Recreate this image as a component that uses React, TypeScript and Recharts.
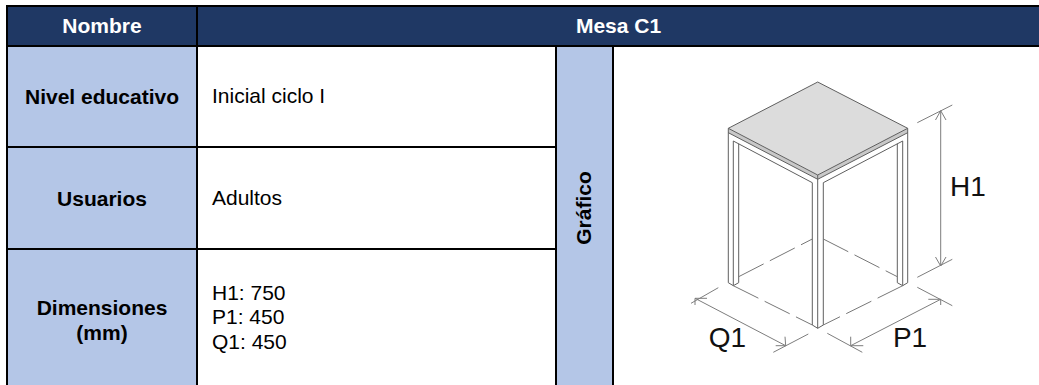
import { ComposedChart, Area, Line, XAxis, YAxis, ReferenceDot } from 'recharts';

const headerLabels = ['Nombre', 'Mesa C1'];
const rowLabels = ['Nivel educativo', 'Usuarios', 'Dimensiones\n(mm)'];
const rowValues = ['Inicial ciclo I', 'Adultos', 'H1: 750\nP1: 450\nQ1: 450'];
const sideLabel = 'Gráfico';

type Pt = [number, number];

// drawing values
const topFace = [
  { x: 728.3, band: [128.3, 128.3] },
  { x: 817.7, band: [82, 175] },
  { x: 907.7, band: [128.3, 128.3] },
];
const edgeLeft = [
  { x: 728.3, band: [128.3, 132.7] },
  { x: 817.7, band: [175, 179.3] },
];
const edgeRight = [
  { x: 817.7, band: [175, 179.3] },
  { x: 907.7, band: [128.3, 132.7] },
];

const solidLines: Pt[][] = [
  [[728.3, 128.3], [817.7, 82], [907.7, 128.3], [817.7, 175], [728.3, 128.3]],
  [[728.3, 128.3], [728.3, 282.7], [733.3, 285.7]],
  [[907.7, 128.3], [907.7, 282.7], [902.7, 285.7]],
  [[728.3, 132.7], [817.7, 179.3], [907.7, 132.7]],
  [[817.7, 175], [817.7, 328.3]],
  [[733.3, 141], [733.3, 285.7], [738.7, 282.7], [738.7, 143.7]],
  [[902.7, 141], [902.7, 285.7], [897.3, 282.7], [897.3, 143.7]],
  [[733.3, 141], [812.3, 182.7], [812.3, 325], [817.7, 328.3], [823.3, 325], [823.3, 182.7], [902.7, 141]],
];

const dashedLines: Pt[][] = [
  [[738.7, 276.7], [812.3, 239]],
  [[823.3, 239], [897.3, 276.7]],
  [[733.3, 285.7], [812.3, 325]],
  [[902.7, 285.7], [823.3, 325]],
];

const dimensionLines: Pt[][] = [
  [[940.7, 110.7], [940.7, 266]],
  [[917.3, 122.7], [952.3, 105]],
  [[917.3, 277.3], [952.3, 259.3]],
  [[935.5, 120], [940.7, 110.7], [946, 120]],
  [[935.5, 257], [940.7, 266], [946, 257]],
  [[695, 298.3], [785.7, 345.7]],
  [[691, 303.3], [718.3, 287.7]],
  [[773.3, 352.3], [808.3, 334]],
  [[695, 305], [695, 298.3], [707, 298.3]],
  [[785, 336.7], [785.7, 345.7], [775.7, 345.7]],
  [[850.7, 345.7], [940.7, 299.3]],
  [[827.3, 333.3], [862.3, 352.3]],
  [[917.3, 287.3], [952.3, 305.7]],
  [[850.7, 336.7], [850.7, 345.7], [863.3, 345.7]],
  [[928.3, 299.3], [940.7, 299.3], [940.7, 305]],
];

const dimensionNames = [
  { name: 'H1', x: 968, y: 186.5 },
  { name: 'Q1', x: 727.5, y: 337 },
  { name: 'P1', x: 910, y: 337 },
];

const toPoints = (seg: Pt[]) => seg.map(([x, y]) => ({ x, y }));

const FONT = '"Liberation Sans", Arial, sans-serif';
const NAVY = '#1F3864';
const BLUE = '#B4C6E7';

function Box({ left, top, width, height, bg, children, style }: any) {
  return (
    <div
      style={{
        position: 'absolute',
        left,
        top,
        width,
        height,
        background: bg,
        display: 'flex',
        alignItems: 'center',
        ...style,
      }}
    >
      {children}
    </div>
  );
}

const rowTops = [47, 148, 250];
const rowBottoms = [146, 248, 385];

export default function App() {
  return (
    <div
      style={{
        position: 'absolute',
        left: 0,
        top: 0,
        width: 1039,
        height: 385,
        overflow: 'hidden',
        background: '#fff',
        fontFamily: FONT,
        fontSize: 21,
        color: '#000',
      }}
    >
      {/* header */}
      <Box left={6} top={5} width={1033} height={42} bg="#000" />
      <Box left={8} top={7} width={188} height={38} bg={NAVY} style={{ justifyContent: 'center', color: '#fff', fontWeight: 700 }}>
        {headerLabels[0]}
      </Box>
      <Box left={198} top={7} width={841} height={38} bg={NAVY} style={{ justifyContent: 'center', color: '#fff', fontWeight: 700 }}>
        {headerLabels[1]}
      </Box>

      {/* vertical rules */}
      <Box left={6} top={47} width={2} height={338} bg="#000" />
      <Box left={196} top={47} width={2} height={338} bg="#000" />
      <Box left={555} top={47} width={2} height={338} bg="#000" />
      <Box left={612} top={47} width={2} height={338} bg="#000" />

      {rowLabels.map((label, i) => (
        <Box
          key={label}
          left={8}
          top={rowTops[i]}
          width={188}
          height={rowBottoms[i] - rowTops[i] + (i === 2 ? 4 : 0)}
          bg={BLUE}
          style={{ justifyContent: 'center', textAlign: 'center', fontWeight: 700, whiteSpace: 'pre-line', lineHeight: '25px' }}
        >
          {label}
        </Box>
      ))}
      {rowValues.map((value, i) => (
        <Box
          key={value}
          left={212}
          top={rowTops[i]}
          width={340}
          height={rowBottoms[i] - rowTops[i]}
          style={{ whiteSpace: 'pre-line', lineHeight: '24.6px' }}
        >
          {value}
        </Box>
      ))}

      {/* row rules */}
      <Box left={6} top={146} width={606} height={2} bg="#000" />
      <Box left={6} top={248} width={606} height={2} bg="#000" />

      <Box left={557} top={47} width={55} height={338} bg={BLUE} style={{ justifyContent: 'center' }}>
        <div style={{ transform: 'rotate(-90deg)', fontWeight: 700, whiteSpace: 'nowrap', position: 'relative', top: -8, left: -1 }}>
          {sideLabel}
        </div>
      </Box>

      {/* diagram */}
      <div style={{ position: 'absolute', left: 614, top: 47 }}>
        <ComposedChart width={425} height={338} margin={{ top: 0, right: 0, bottom: 0, left: 0 }}>
          <XAxis type="number" dataKey="x" domain={[614, 1039]} hide />
          <YAxis type="number" domain={[47, 385]} reversed hide />
          <Area data={topFace} dataKey="band" stroke="none" fill="#DCDCDC" fillOpacity={1} isAnimationActive={false} />
          <Area data={edgeLeft} dataKey="band" stroke="none" fill="#C8C8C8" fillOpacity={1} isAnimationActive={false} />
          <Area data={edgeRight} dataKey="band" stroke="none" fill="#C8C8C8" fillOpacity={1} isAnimationActive={false} />
          {solidLines.map((seg, i) => (
            <Line key={`s${i}`} data={toPoints(seg)} dataKey="y" stroke="#5f5f5f" strokeWidth={1} dot={false} isAnimationActive={false} />
          ))}
          {dashedLines.map((seg, i) => (
            <Line key={`d${i}`} data={toPoints(seg)} dataKey="y" stroke="#777" strokeWidth={1} strokeDasharray="28 7" dot={false} isAnimationActive={false} />
          ))}
          {dimensionLines.map((seg, i) => (
            <Line key={`m${i}`} data={toPoints(seg)} dataKey="y" stroke="#7d7d7d" strokeWidth={1} dot={false} isAnimationActive={false} />
          ))}
          {dimensionNames.map((d) => (
            <ReferenceDot
              key={d.name}
              x={d.x}
              y={d.y}
              r={0}
              stroke="none"
              fill="none"
              label={{ value: d.name, position: 'center', fontSize: 28, fill: '#111', fontFamily: FONT }}
            />
          ))}
        </ComposedChart>
      </div>
    </div>
  );
}
